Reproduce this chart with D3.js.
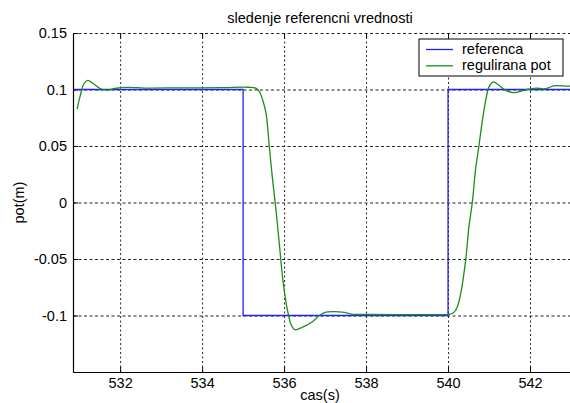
<!DOCTYPE html>
<html>
<head>
<meta charset="utf-8">
<script src="https://cdn.jsdelivr.net/npm/d3@7"></script>
<style>
    body { margin: 0; background: #fff; }
    text { font-family: "Liberation Sans", Arial, sans-serif; font-size: 14.5px; fill: #000; }
</style>
</head>
<body>
<div class="chart"></div>
<script>
// // Reference signal (step changes)
const refT = [530.88, 535, 535, 540, 540, 543]
const refV = [0.1, 0.1, -0.1, -0.1, 0.1, 0.1]

// Controlled position
const potT = [
    530.95, 531.02, 531.12, 531.21, 531.34, 531.51, 531.67, 531.87, 532.16, 532.6,
    533.5, 534.5, 535.12, 535.32, 535.40, 535.48, 535.56, 535.64, 535.72, 535.81,
    535.89, 535.97, 536.05, 536.11, 536.17, 536.26, 536.45, 536.7, 536.86, 537.02,
    537.22, 537.47, 537.63, 538.08, 539.0, 539.94, 540.06, 540.15, 540.23, 540.31,
    540.43, 540.51, 540.59, 540.67, 540.75, 540.84, 540.92, 541.0, 541.11, 541.24,
    541.4, 541.6, 541.78, 541.93, 542.15, 542.33, 542.45, 542.57, 542.9, 543
]
const potV = [
    0.0826, 0.0935, 0.1053, 0.108, 0.1053, 0.1009, 0.0994, 0.1009, 0.1018, 0.1013,
    0.1015, 0.1016, 0.102, 0.101, 0.098, 0.0905, 0.0788, 0.0493, 0.02, -0.0094,
    -0.039, -0.0685, -0.089, -0.1, -0.108, -0.1126, -0.1103, -0.1053, -0.1, -0.097,
    -0.0965, -0.0973, -0.0988, -0.0991, -0.0992, -0.0992, -0.0988, -0.097, -0.092, -0.0805,
    -0.051, -0.0214, -0.0007, 0.0287, 0.0493, 0.0729, 0.0905, 0.1023, 0.1067, 0.1038,
    0.0995, 0.0973, 0.0985, 0.1, 0.1012, 0.1006, 0.1015, 0.1032, 0.103, 0.103
]

const xTicks = [532, 534, 536, 538, 540, 542]
const yTicks = [-0.1, -0.05, 0, 0.05, 0.1, 0.15]
const yTickLabels = ["-0.1", "-0.05", "0", "0.05", "0.1", "0.15"]

const seriesNames = ["referenca", "regulirana pot"]
const seriesCols = ["#2020ff", "#1c8c1c"]

const width = 570
const height = 403
const plotL = 73, plotR = 571, plotT = 33, plotB = 372

const svg = d3.select('.chart')
    .append('svg')
    .attr('width', width)
    .attr('height', height)

svg.append('rect')
    .attr('width', width)
    .attr('height', height)
    .attr('fill', '#fff')

const x = d3.scaleLinear().domain([530.85, 543]).range([plotL, plotR])
const y = d3.scaleLinear().domain([-0.15, 0.15]).range([plotB, plotT])

// grid
svg.append('g')
    .attr('transform', 'translate(0,' + plotB + ')')
    .call(d3.axisBottom(x).tickValues(xTicks).tickSize(-(plotB - plotT)).tickFormat(''))
    .call(g => g.select('.domain').remove())
    .selectAll('line')
    .attr('stroke', '#222')
    .attr('stroke-dasharray', '2,2.5')

svg.append('g')
    .attr('transform', 'translate(' + plotL + ',0)')
    .call(d3.axisLeft(y).tickValues(yTicks).tickSize(-(plotR - plotL)).tickFormat(''))
    .call(g => g.select('.domain').remove())
    .selectAll('line')
    .attr('stroke', '#222')
    .attr('stroke-dasharray', '3,2.5')

// axes, ticks pointing inwards
svg.append('g')
    .attr('class', 'x-axis')
    .attr('transform', 'translate(0,' + plotB + ')')
    .call(d3.axisBottom(x).tickValues(xTicks).tickSizeInner(-5).tickSizeOuter(0).tickPadding(6))
    .call(g => g.selectAll('text').style('font-size', '14.5px').style('font-family', '"Liberation Sans", Arial, sans-serif'))

svg.append('g')
    .attr('transform', 'translate(0,' + plotT + ')')
    .call(d3.axisTop(x).tickValues(xTicks).tickSizeInner(-5).tickSizeOuter(0).tickFormat(''))
    .call(g => g.select('.domain').remove())

svg.append('g')
    .attr('class', 'y-axis')
    .attr('transform', 'translate(' + plotL + ',0)')
    .call(d3.axisLeft(y).tickValues(yTicks).tickSizeInner(-5).tickSizeOuter(0).tickPadding(6)
        .tickFormat(function (d, i) { return yTickLabels[i] }))
    .call(g => g.selectAll('text').style('font-size', '14.5px').style('font-family', '"Liberation Sans", Arial, sans-serif'))

svg.selectAll('.domain').attr('stroke', '#000').attr('stroke-width', 1.2)

// lines
const refLine = d3.line()
    .x((d, i) => x(refT[i]))
    .y(d => y(d))

const potLine = d3.line()
    .x((d, i) => x(potT[i]))
    .y(d => y(d))
    .curve(d3.curveCatmullRom.alpha(0.5))

svg.append('path')
    .attr('d', refLine(refV))
    .attr('fill', 'none')
    .attr('stroke', seriesCols[0])
    .attr('stroke-width', 1.3)

svg.append('path')
    .attr('d', potLine(potV))
    .attr('fill', 'none')
    .attr('stroke', seriesCols[1])
    .attr('stroke-width', 1.3)

// titles
svg.append('text')
    .attr('x', 320)
    .attr('y', 23)
    .attr('text-anchor', 'middle')
    .text('sledenje referencni vrednosti')

svg.append('text')
    .attr('x', 320)
    .attr('y', 399.5)
    .attr('text-anchor', 'middle')
    .text('cas(s)')

svg.append('text')
    .attr('transform', 'translate(23.5,202.5) rotate(-90)')
    .attr('text-anchor', 'middle')
    .text('pot(m)')

// legend
const leg = svg.append('g')
    .attr('transform', 'translate(419,39)')

leg.append('rect')
    .attr('width', 144)
    .attr('height', 37)
    .attr('fill', '#fff')
    .attr('stroke', '#000')
    .attr('stroke-width', 1)

const legRows = leg.selectAll('.leg-row')
    .data(seriesNames)
    .enter()
    .append('g')
    .attr('class', 'leg-row')
    .attr('transform', (d, i) => 'translate(0,' + (10.5 + i * 16.3) + ')')

legRows.append('line')
    .attr('x1', 7)
    .attr('x2', 34)
    .attr('stroke', (d, i) => seriesCols[i])
    .attr('stroke-width', 1.3)

legRows.append('text')
    .attr('x', 43)
    .attr('y', 4)
    .text(d => d)
</script>
</body>
</html>
